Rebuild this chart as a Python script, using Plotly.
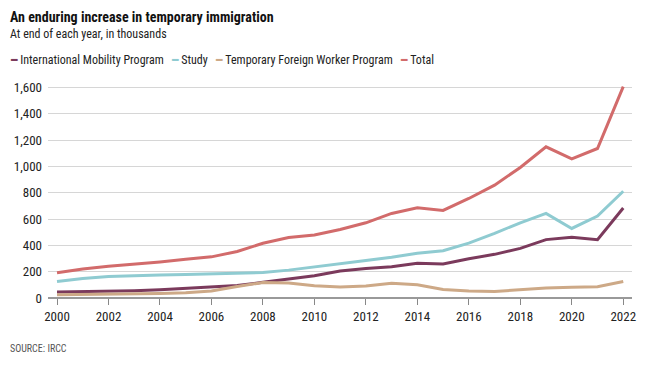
import plotly.graph_objects as go

years = list(range(2000, 2023))
imp = [46, 48, 51, 56, 63, 73, 84, 96, 119, 144, 170, 205, 225, 238, 265, 258, 298, 332, 377, 444, 462, 444, 684]
study = [126, 149, 163, 170, 175, 178, 182, 187, 194, 212, 235, 258, 285, 310, 340, 360, 417, 492, 572, 643, 529, 623, 812]
tfwp = [24, 26, 27, 31, 35, 40, 54, 87, 118, 114, 93, 84, 92, 112, 100, 64, 54, 50, 61, 76, 81, 86, 125]
total = [192, 220, 241, 256, 274, 294, 313, 354, 416, 460, 479, 521, 572, 643, 686, 666, 757, 858, 993, 1150, 1058, 1137, 1608]

names = ["International Mobility Program", "Study", "Temporary Foreign Worker Program", "Total"]
colors = ["#7b3a5c", "#8fcbd1", "#cda987", "#d26b6b"]
series = [imp, study, tfwp, total]

FONT = "Roboto Condensed, DejaVu Sans Condensed, sans-serif"

W, H = 650, 365
L, R, T, B = 48, 18, 84.7, 67
PW, PH = W - L - R, H - T - B


def px(x):
    return (x - L) / PW


def py(y):
    return 1 - (y - T) / PH


fig = go.Figure()
for n, c, s in zip(names, colors, series):
    fig.add_trace(go.Scatter(x=years, y=s, name=n, mode="lines",
                             line=dict(color=c, width=3), showlegend=False))

texts = [
    ("<b>An enduring increase in temporary immigration</b>", 8, 7, 14, "#111"),
    ("At end of each year, in thousands", 8, 25, 12, "#222"),
    ("SOURCE: IRCC", 8, 341, 10, "#555"),
]
for t, x, y, s, c in texts:
    fig.add_annotation(text=t, x=px(x), y=py(y), xref="paper", yref="paper",
                       xanchor="left", yanchor="top", showarrow=False,
                       font=dict(family=FONT, size=s, color=c))

# legend drawn as one line of text
sep = "\u00a0\u00a0\u00a0"
legend_text = sep.join(
    f"<span style='color:{c}'><b>━</b></span>\u00a0{n}" for n, c in zip(names, colors)
)
fig.add_annotation(text=legend_text, x=px(8), y=py(60), xref="paper", yref="paper",
                   xanchor="left", yanchor="middle", showarrow=False,
                   font=dict(family=FONT, size=12, color="#222"))

fig.update_layout(
    width=W, height=H,
    margin=dict(l=L, r=R, t=T, b=B),
    paper_bgcolor="white", plot_bgcolor="white",
    font=dict(family=FONT, size=13, color="#222"),
    xaxis=dict(range=[1999.65, 2022.34], tickmode="linear", tick0=2000, dtick=2,
               showgrid=False, ticks="outside", ticklen=6, tickcolor="#888", tickwidth=1,
               showline=False, zeroline=False, tickfont=dict(size=13, color="#222")),
    yaxis=dict(range=[0, 1620], tickvals=[0, 200, 400, 600, 800, 1000, 1200, 1400, 1600],
               ticktext=["0", "200", "400", "600", "800", "1,000", "1,200", "1,400", "1,600"],
               showgrid=True, gridcolor="#d6d6d6", gridwidth=1,
               zeroline=True, zerolinecolor="#999", zerolinewidth=2,
               ticks="", ticklabelstandoff=5, tickfont=dict(size=13, color="#222")),
)
fig.write_html("out.html", config={"displayModeBar": False},
               post_script="document.body.style.margin='0';")
